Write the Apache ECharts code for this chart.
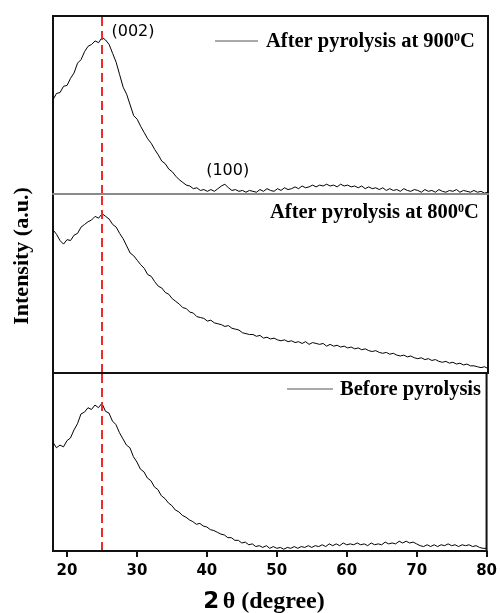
<!DOCTYPE html>
<html><head><meta charset="utf-8">
<script src="https://cdn.jsdelivr.net/npm/echarts@6/dist/echarts.min.js"></script>
<style>html,body{margin:0;padding:0;background:#fff}#c{width:500px;height:613px}</style>
</head><body><div id="c"></div>
<script>
// 2θ grid of the readings
const thetaStart = 18, thetaStep = 0.5;
const xTicks = [20, 30, 40, 50, 60, 70, 80];
const refLineTheta = 25;

// Intensity (a.u., per panel 0-100)
const pyro900 = [53,56.5,57,60.5,61,65,68,73.5,75.5,80,
83,84,86,85,88,86.5,84,79,74,67,
60,56,50,44,42,38,34.5,31,28.5,25,
22,18.5,17,14,12.5,10,8,6.5,5,4.5,
3,3.5,2,2.5,1.5,2.5,1.5,3,4.5,5.5,
3.5,2,2.5,1.5,2,1,2,1.5,1,2.5,
1.5,3,2,1.5,3,2,3.5,2.5,3,4,
3,4.5,3.5,4,5,4,5,4.5,5.5,4.5,
5,4,5.5,4.5,5,4,4.5,3.5,4.5,3,
4,3,3.5,2.5,3.5,2,3,2,2.5,1.5,
3,2,1.5,2.5,2,1,2.5,1.5,2,1,
2.5,1.5,1,2,1.5,2.5,1,2,1.5,1,
2,1,1.5,0.5,1];
const pyro800 = [80,77.5,74,72,74.5,74,77,78,81.5,83,
84.5,85.5,87.5,86.5,89,87.5,86,83,81.5,78,
75,71,67,65.5,63,60.5,58.5,55,54,51,
48.5,47.5,45,44,41.5,40,38.5,36.5,36,34,
33.5,31.5,31,30.5,29,29.5,28,27.5,27,26,
26.5,25,24.5,24,22.5,22,21.5,21.5,20.5,21,
19.5,20,19,19.5,18.5,18,18.5,17.5,18,17,
17.5,16.5,17.5,16,17,16.5,16,16.5,15,16,
15,15.5,14.5,15,14,14.5,13.5,14,13,13.5,
12.5,12,12.5,11.5,11,11.5,10.5,11,10,9.5,
10,9,9.5,8.5,8,8.5,7.5,8,7,7.5,
6.5,6,6.5,5.5,6,5,5.5,4.5,5,4,
4,3.5,3,3.5,2.5];
const beforePyro = [61,58,59.5,58.5,62,63.5,68,71.5,77,78,
80.5,79.5,82,80.5,83,78.5,77.5,73,71,66.5,
63,59.5,58,53,50,46,44.5,41,39.5,36,
34.5,31,29.5,27,25.5,23,22,20,19,17.5,
16.5,15,15.5,14,13.5,12,11.5,10.5,9.5,9,
7.5,7.5,6,6,4.5,5,3.5,4,2.5,3,
2,3,1.5,2.5,1.5,2,1,2,1.5,2.5,
1.5,2.5,2,3,2,3,2.5,3.5,2.5,4,
3,4,3,4.5,3.5,4,3.5,4.5,3.5,4,
3,4.5,3.5,4,3.5,5,4,4.5,4,5.5,
4.5,5.5,4.5,5,4,3,2.5,3.5,2.5,3.5,
2.5,3.5,3,4,3,3.5,2.5,3.5,3,3.5,
2.5,3,2,1.5,1.5];

const panelSeries = [pyro900, pyro800, beforePyro];
const panelNames = ['After pyrolysis at 900°C', 'After pyrolysis at 800°C', 'Before pyrolysis'];
const peakNames = ['(002)', '(100)'];
const peakPos = [[29.4, 91], [42.9, 13]];

const toPairs = arr => arr.map((v, i) => [thetaStart + i * thetaStep, v]);

const gridTops = [16, 194, 373];
const gridHeights = [178, 179, 178];
const grid = gridTops.map((t, i) => ({
  left: 53, top: t, width: 435, height: gridHeights[i],
  show: true, borderColor: '#111', borderWidth: 2, backgroundColor: 'transparent'
}));

const xAxis = [0, 1, 2].map(i => ({
  type: 'value', gridIndex: i, min: 18, max: 80,
  axisLine: { show: true, lineStyle: { color: i === 0 ? '#8a8a8a' : '#111', width: 2 } },
  z: 5,
  splitLine: { show: false },
  axisTick: i === 2 ? { show: true, customValues: xTicks, length: 6, lineStyle: { color: '#111', width: 2 } } : { show: false },
  axisLabel: i === 2 ? { show: true, customValues: xTicks, margin: 13, color: '#000',
    fontFamily: 'DejaVu Sans', fontWeight: 'bold', fontSize: 15 } : { show: false }
}));
const yAxis = [0, 1, 2].map(i => ({
  type: 'value', gridIndex: i, min: 0, max: 100, show: false
}));

const series = panelSeries.map((arr, i) => {
  const s = {
    type: 'line', name: panelNames[i], xAxisIndex: i, yAxisIndex: i,
    data: toPairs(arr), showSymbol: false, symbol: 'none',
    lineStyle: { color: '#000', width: 1 },
    markLine: {
      silent: true, symbol: 'none', label: { show: false },
      lineStyle: { color: '#ee2a2a', width: 2, type: [9, 5] },
      data: [{ xAxis: refLineTheta }]
    }
  };
  if (i === 0) {
    s.markPoint = {
      symbol: 'circle', symbolSize: 0, silent: true,
      label: { show: true, position: 'inside', color: '#000', fontFamily: 'DejaVu Sans', fontSize: 16,
        formatter: p => p.name },
      data: peakNames.map((n, k) => ({ name: n, coord: peakPos[k] }))
    };
  }
  return s;
});

const serif = 'Liberation Serif';
const legendRich = {
  s: { fontSize: 12, fontWeight: 'bold', fontFamily: serif, verticalAlign: 'top', padding: [0, 0, 9, 0] }
};
const fmtName = n => n.replace('°C', '{s|0}C');
const lf = 20.5;

const graphic = [
  { type: 'line', shape: { x1: 215, y1: 41, x2: 258, y2: 41 }, style: { stroke: '#555', lineWidth: 1 } },
  { type: 'text', x: 266, y: 42, style: { text: fmtName(panelNames[0]), fontSize: lf, fontWeight: 'bold', fontFamily: serif, fill: '#000', verticalAlign: 'middle', rich: legendRich } },
  { type: 'text', x: 270, y: 213, style: { text: fmtName(panelNames[1]), fontSize: lf, fontWeight: 'bold', fontFamily: serif, fill: '#000', verticalAlign: 'middle', rich: legendRich } },
  { type: 'line', shape: { x1: 287, y1: 389, x2: 333, y2: 389 }, style: { stroke: '#555', lineWidth: 1 } },
  { type: 'text', x: 340, y: 390, style: { text: panelNames[2], fontSize: lf, fontWeight: 'bold', fontFamily: serif, fill: '#000', verticalAlign: 'middle' } },
  { type: 'text', x: 22, y: 256, rotation: Math.PI / 2,
    style: { text: 'Intensity (a.u.)', fontSize: 22, fontWeight: 'bold', fontFamily: serif, fill: '#000', align: 'center', verticalAlign: 'middle' } },
  { type: 'text', x: 264, y: 602,
    style: { text: '{a|2} {b|θ (degree)}', align: 'center', verticalAlign: 'middle', fill: '#000',
      rich: { a: { fontFamily: 'DejaVu Sans', fontWeight: 'bold', fontSize: 23, fill: '#000' },
              b: { fontFamily: serif, fontWeight: 'bold', fontSize: 24, fill: '#000' } } } }
];

const chart = echarts.init(document.getElementById('c'), null, { renderer: 'canvas' });
chart.setOption({ animation: false, backgroundColor: '#fff', grid, xAxis, yAxis, series, graphic });
</script></body></html>
